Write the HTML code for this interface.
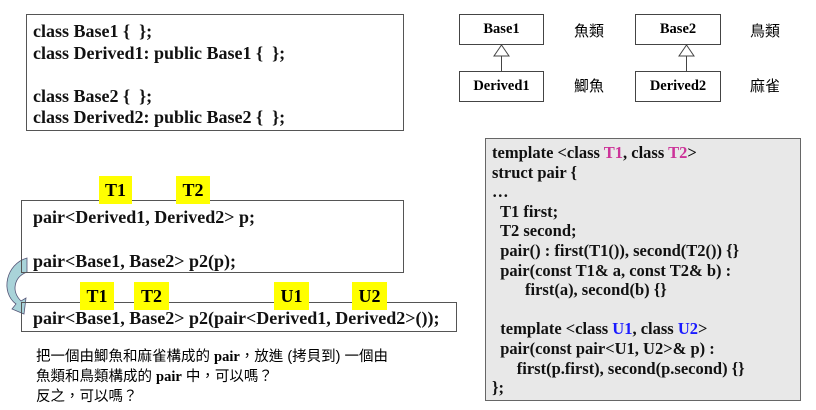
<!DOCTYPE html>
<html><head><meta charset="utf-8"><style>
body{margin:0;width:816px;height:410px;background:#fff;position:relative;overflow:hidden;font-family:"Liberation Serif","Noto Serif CJK SC",serif;}
.a{position:absolute;}
.b{position:absolute;border:1px solid #555;box-sizing:border-box;}
.t{position:absolute;font-weight:bold;font-size:18px;white-space:pre;line-height:20px;color:#111;}
.y{position:absolute;background:#ffff00;font-weight:bold;font-size:18px;text-align:center;line-height:28px;height:28px;}
.c{font-family:"Liberation Sans","Noto Sans CJK TC",sans-serif;font-size:14.5px;position:absolute;white-space:pre;line-height:20px;}
.u{position:absolute;border:1px solid #444;box-sizing:border-box;font-weight:bold;font-size:14.5px;text-align:center;line-height:29px;background:#fff;}
</style></head><body>
<div class="b" style="left:26px;top:14px;width:378px;height:117px;"></div>
<div class="t" style="left:33px;top:21px;line-height:21.5px;">class Base1 {  };
class Derived1: public Base1 {  };

class Base2 {  };
class Derived2: public Base2 {  };</div>

<div class="u" style="left:459px;top:14px;width:85px;height:31px;">Base1</div>
<div class="u" style="left:459px;top:71px;width:85px;height:31px;">Derived1</div>
<div class="u" style="left:635px;top:14px;width:86px;height:31px;">Base2</div>
<div class="u" style="left:635px;top:71px;width:86px;height:31px;">Derived2</div>
<svg class="a" style="left:0;top:0" width="816" height="410">
<polygon points="501.5,45 494,56 509,56" fill="#fff" stroke="#444"/>
<line x1="501.5" y1="56" x2="501.5" y2="71" stroke="#444"/>
<polygon points="686.5,45 679,56 694,56" fill="#fff" stroke="#444"/>
<line x1="686.5" y1="56" x2="686.5" y2="71" stroke="#444"/>
<path d="M27,258 C6,264 0,292 16,304 L12,309 L24,314 L26,298 L21,301 C11,291 14,277 27,272 Z" fill="#a9d3d9" stroke="#557" stroke-width="0.8"/>
</svg>
<div class="c" style="left:574px;top:22px;font-size:15px;">魚類</div>
<div class="c" style="left:574px;top:77px;font-size:15px;">鯽魚</div>
<div class="c" style="left:750px;top:22px;font-size:15px;">鳥類</div>
<div class="c" style="left:750px;top:77px;font-size:15px;">麻雀</div>

<div class="b" style="left:21px;top:200px;width:383px;height:73px;"></div>
<div class="y" style="left:99px;top:176px;width:33px;">T1</div>
<div class="y" style="left:176px;top:176px;width:34px;">T2</div>
<div class="t" style="left:33px;top:206px;line-height:22px;">pair&lt;Derived1, Derived2&gt; p;

pair&lt;Base1, Base2&gt; p2(p);</div>

<div class="b" style="left:21px;top:302px;width:436px;height:30px;"></div>
<div class="y" style="left:80px;top:282px;width:34px;">T1</div>
<div class="y" style="left:134px;top:282px;width:35px;">T2</div>
<div class="y" style="left:274px;top:282px;width:35px;">U1</div>
<div class="y" style="left:352px;top:282px;width:35px;">U2</div>
<div class="t" style="left:33px;top:308px;">pair&lt;Base1, Base2&gt; p2(pair&lt;Derived1, Derived2&gt;());</div>

<div class="c" style="left:36px;top:347px;">把一個由鯽魚和麻雀構成的 <b style="font-family:'Liberation Serif',serif">pair</b>，放進 (拷貝到) 一個由
魚類和鳥類構成的 <b style="font-family:'Liberation Serif',serif">pair</b> 中，可以嗎？
反之，可以嗎？</div>

<div class="b" style="left:485px;top:138px;width:316px;height:263px;background:#e8e8e8;border-color:#666;"></div>
<div class="t" style="left:492px;top:143px;font-size:16.5px;line-height:19.6px;">template &lt;class <span style="color:#cc3399">T1</span>, class <span style="color:#cc3399">T2</span>&gt;
struct pair {
…
  T1 first;
  T2 second;
  pair() : first(T1()), second(T2()) {}
  pair(const T1&amp; a, const T2&amp; b) :
        first(a), second(b) {}

  template &lt;class <span style="color:#1a1aff">U1</span>, class <span style="color:#1a1aff">U2</span>&gt;
  pair(const pair&lt;U1, U2&gt;&amp; p) :
      first(p.first), second(p.second) {}
};</div>
</body></html>
